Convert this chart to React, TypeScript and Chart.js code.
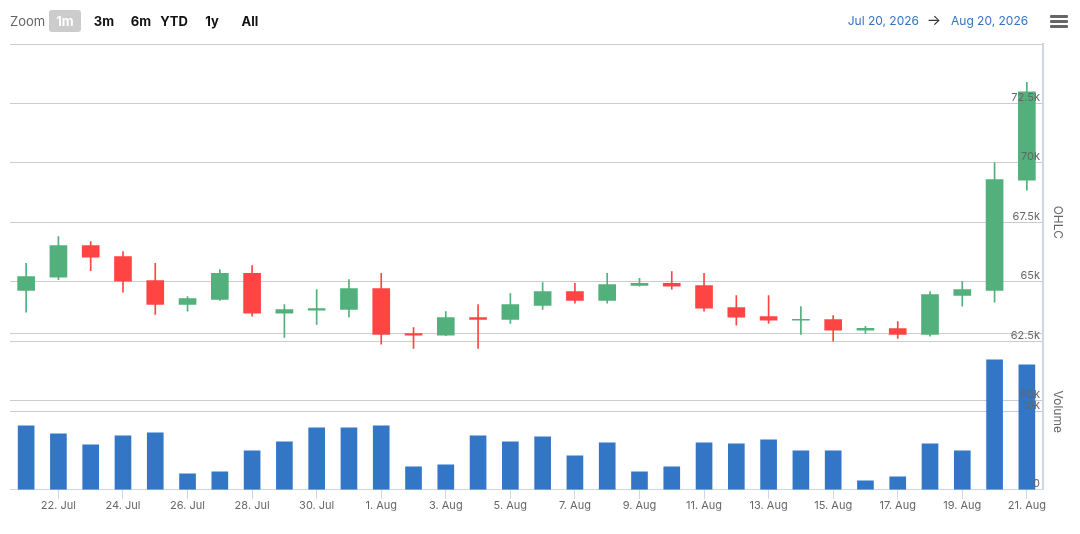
import React, { useEffect, useRef } from 'react';
import { Chart, registerables } from 'chart.js';

Chart.register(...registerables);

const FONT = 'Inter, "Noto Sans", "DejaVu Sans", sans-serif';

const categories = [
  '21. Jul', '22. Jul', '23. Jul', '24. Jul', '25. Jul', '26. Jul', '27. Jul', '28. Jul',
  '29. Jul', '30. Jul', '31. Jul', '1. Aug', '2. Aug', '3. Aug', '4. Aug', '5. Aug',
  '6. Aug', '7. Aug', '8. Aug', '9. Aug', '10. Aug', '11. Aug', '12. Aug', '13. Aug',
  '14. Aug', '15. Aug', '16. Aug', '17. Aug', '18. Aug', '19. Aug', '20. Aug', '21. Aug',
];

const opens = [
  64640, 65190, 66520, 66060, 65050, 64050, 64260, 65350,
  63680, 63800, 63840, 64710, 62820, 62750, 63490, 63420,
  64010, 64590, 64220, 64850, 64930, 64840, 63910, 63540,
  63380, 63410, 62960, 63030, 62790, 64430, 64640, 69270,
];
const highs = [
  65770, 66900, 66690, 66270, 65770, 64380, 65510, 65680,
  64040, 64670, 65090, 65350, 63070, 63750, 64040, 64500,
  64970, 64930, 65350, 65140, 65430, 65350, 64420, 64420,
  63960, 63580, 63130, 63330, 64590, 65010, 70000, 73390,
];
const lows = [
  63720, 65090, 65470, 64560, 63630, 63760, 64220, 63550,
  62660, 63210, 63510, 62370, 62200, 62730, 62200, 63250,
  63840, 64100, 64100, 64810, 64690, 63760, 63170, 63250,
  62790, 62500, 62830, 62620, 62710, 63970, 64140, 68850,
];
const closes = [
  65220, 66520, 66030, 65020, 64050, 64290, 65350, 63680,
  63830, 63870, 64710, 62790, 62750, 63490, 63420, 64040,
  64590, 64220, 64880, 64930, 64810, 63890, 63510, 63380,
  63410, 62960, 63040, 62790, 64460, 64670, 69300, 72990,
];
const volumes = [
  8200, 7180, 5770, 6920, 7310, 2050, 2310, 5000,
  6150, 7950, 7950, 8210, 2950, 3210, 6920, 6150,
  6800, 4360, 6030, 2310, 2950, 6030, 5900, 6410,
  5000, 5000, 1150, 1670, 5900, 5000, 16670, 16030,
];

const zoomButtons = ['1m', '3m', '6m', 'YTD', '1y', 'All'];
const zoomCenters = [65, 104, 141, 174, 212, 250];
const rangeFrom = 'Jul 20, 2026';
const rangeTo = 'Aug 20, 2026';

const UP = '#51b07b';
const DOWN = '#ff4444';
const VOL = '#3376c6';
const GRID = '#cccccc';
const AXIS = '#ccd6eb';
const LABEL = '#666666';

document.body.style.margin = '0';

const paneLayout = {
  id: 'paneLayout',
  afterLayout(chart: any) {
    const area = chart.chartArea;
    const h = area.bottom - area.top;
    const p = chart.scales.yPrice;
    p.top = area.top;
    p.bottom = area.top + h * 0.8;
    p.height = p.bottom - p.top;
    p.configure();
    const v = chart.scales.yVol;
    v.top = area.top + h * 0.65;
    v.bottom = area.bottom;
    v.height = v.bottom - v.top;
    v.configure();
  },
};

export default function App() {
  const ref = useRef<HTMLCanvasElement | null>(null);

  useEffect(() => {
    if (!ref.current) return;
    const colors = opens.map((o, i) => (closes[i] >= o ? UP : DOWN));
    const chart = new Chart(ref.current, {
      type: 'bar',
      data: {
        labels: categories,
        datasets: [
          {
            label: 'OHLC',
            data: categories.map((_, i) => [opens[i], closes[i]]) as any,
            backgroundColor: colors,
            barThickness: 17,
            minBarLength: 1,
            grouped: false,
            yAxisID: 'yPrice',
            order: 0,
          },
          {
            label: 'wick',
            data: categories.map((_, i) => [lows[i], highs[i]]) as any,
            backgroundColor: colors,
            barThickness: 1,
            grouped: false,
            yAxisID: 'yPrice',
            order: 1,
          },
          {
            label: 'Volume',
            data: volumes,
            backgroundColor: VOL,
            barThickness: 16,
            grouped: false,
            yAxisID: 'yVol',
            order: 2,
          },
        ],
      },
      options: {
        responsive: false,
        animation: false,
        layout: { padding: { top: 44, left: 10, right: 37, bottom: 22 } },
        plugins: { legend: { display: false }, tooltip: { enabled: false } },
        scales: {
          x: {
            type: 'category',
            offset: true,
            grid: { offset: false, drawOnChartArea: false, drawTicks: true, tickLength: 9, color: AXIS },
            border: { display: true, color: AXIS, width: 1 },
            ticks: { autoSkip: false, maxRotation: 0, padding: 0, color: LABEL, font: { size: 11, family: FONT } },
            afterBuildTicks: (s: any) => {
              s.ticks = s.ticks.filter((t: any) => t.value % 2 === 1);
            },
          },
          yPrice: {
            type: 'linear',
            position: 'right',
            min: 60000,
            max: 75000,
            ticks: {
              stepSize: 2500,
              mirror: true,
              padding: -3,
              labelOffset: -6,
              z: 1,
              color: LABEL,
              font: { size: 11, family: FONT },
              callback: (v: any) => (v >= 75000 ? '' : `${v / 1000}k`),
            },
            grid: { color: GRID, drawTicks: false },
            border: { display: true, color: AXIS, width: 2 },
            title: { display: true, text: 'OHLC', color: LABEL, font: { size: 12, family: FONT }, padding: { top: -22, bottom: 0 } },
            afterFit: (s: any) => { s.width = 0; },
          },
          yVol: {
            type: 'linear',
            position: 'right',
            min: 0,
            max: 20000,
            ticks: {
              stepSize: 10000,
              mirror: true,
              padding: -3,
              labelOffset: -6,
              z: 1,
              color: LABEL,
              font: { size: 11, family: FONT },
              callback: (v: any) => (v >= 20000 ? '' : v === 0 ? '0' : `${v / 1000}k`),
            },
            grid: { color: GRID, drawTicks: false },
            border: { display: true, color: AXIS, width: 2 },
            title: { display: true, text: 'Volume', color: LABEL, font: { size: 12, family: FONT }, padding: { top: -22, bottom: 0 } },
            afterFit: (s: any) => { s.width = 0; },
          },
        },
      } as any,
      plugins: [paneLayout],
    });
    return () => chart.destroy();
  }, []);

  const top = 10;
  return (
    <div style={{ position: 'relative', width: 1080, height: 534, fontFamily: FONT, overflow: 'hidden' }}>
      <canvas ref={ref} width={1080} height={534} style={{ position: 'absolute', left: 0, top: 0, display: 'block' }} />
      <div style={{ position: 'absolute', left: 10, top, height: 22, lineHeight: '22px', fontSize: 13, color: LABEL }}>Zoom</div>
      {zoomButtons.map((b, i) => {
        const selected = i === 0;
        return (
          <div
            key={b}
            style={{
              position: 'absolute',
              left: selected ? 49 : zoomCenters[i] - 17,
              width: selected ? 32 : 34,
              top,
              height: 22,
              lineHeight: '22px',
              textAlign: 'center',
              fontSize: 13,
              fontWeight: 700,
              color: selected ? '#ffffff' : '#111111',
              background: selected ? '#cccccc' : 'transparent',
              borderRadius: 3,
            }}
          >
            {b}
          </div>
        );
      })}
      <div style={{ position: 'absolute', left: 820, width: 99, top, height: 22, lineHeight: '22px', textAlign: 'right', fontSize: 12, color: '#3373c4' }}>{rangeFrom}</div>
      <div style={{ position: 'absolute', left: 924, width: 20, top: top - 1, height: 22, lineHeight: '22px', textAlign: 'center', fontSize: 15, color: '#333333' }}>→</div>
      <div style={{ position: 'absolute', left: 951, width: 100, top, height: 22, lineHeight: '22px', textAlign: 'left', fontSize: 12, color: '#3373c4' }}>{rangeTo}</div>
      {[15, 20, 25].map((y) => (
        <div key={y} style={{ position: 'absolute', left: 1050, top: y, width: 18, height: 2.5, background: '#666666', borderRadius: 1 }} />
      ))}
    </div>
  );
}
